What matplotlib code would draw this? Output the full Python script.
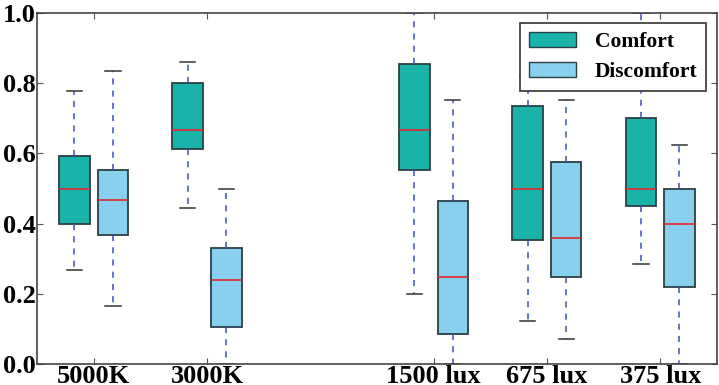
import matplotlib
matplotlib.use('Agg')
import matplotlib.pyplot as plt
from matplotlib.patches import Patch

# group labels and positions (position 3 is left empty)
groups = ['5000K', '3000K', '1500 lux', '675 lux', '375 lux']
group_pos = [1, 2, 4, 5, 6]

# five-number summaries per group: low whisker, Q1, median, Q3, high whisker
comfort_low = [0.267, 0.444, 0.200, 0.123, 0.286]
comfort_q1 = [0.400, 0.612, 0.552, 0.353, 0.449]
comfort_med = [0.500, 0.667, 0.667, 0.500, 0.500]
comfort_q3 = [0.592, 0.800, 0.855, 0.734, 0.700]
comfort_high = [0.778, 0.860, 1.000, 0.820, 1.000]

discomfort_low = [0.165, 0.000, 0.000, 0.070, 0.000]
discomfort_q1 = [0.367, 0.105, 0.085, 0.249, 0.220]
discomfort_med = [0.467, 0.238, 0.249, 0.359, 0.400]
discomfort_q3 = [0.553, 0.332, 0.465, 0.577, 0.500]
discomfort_high = [0.835, 0.500, 0.751, 0.751, 0.624]

c_comfort = '#19b3aa'
c_discomfort = '#89cfee'
edge = '#2b3f45'
serif = ['Liberation Serif', 'DejaVu Serif']

plt.rcParams['font.family'] = serif
plt.rcParams['font.weight'] = 'bold'


def make_stats(low, q1, med, q3, high):
    return [dict(whislo=a, q1=b, med=c, q3=d, whishi=e, fliers=[])
            for a, b, c, d, e in zip(low, q1, med, q3, high)]


fig = plt.figure(figsize=(7.19, 3.85), dpi=100)
ax = fig.add_axes([0.0515, 0.0545, 0.9455, 0.9115])

common = dict(
    widths=0.27, patch_artist=True, showfliers=False,
    whiskerprops=dict(color='#3a4fc0', linestyle=(0, (4, 4)), linewidth=1.1),
    capprops=dict(color='#333333', linewidth=1.1),
    medianprops=dict(color='#e8262f', linewidth=1.2),
)

off = 0.17
ax.bxp(make_stats(comfort_low, comfort_q1, comfort_med, comfort_q3, comfort_high),
       positions=[p - off for p in group_pos],
       boxprops=dict(facecolor=c_comfort, edgecolor=edge, linewidth=1.3), **common)
ax.bxp(make_stats(discomfort_low, discomfort_q1, discomfort_med, discomfort_q3, discomfort_high),
       positions=[p + off for p in group_pos],
       boxprops=dict(facecolor=c_discomfort, edgecolor=edge, linewidth=1.3), **common)

ax.set_xlim(0.5, 6.5)
ax.set_ylim(0.0, 1.0)
ax.set_xticks(group_pos)
ax.set_xticklabels(groups, fontsize=19, fontweight='bold', family=serif)
ax.set_yticks([0.0, 0.2, 0.4, 0.6, 0.8, 1.0])
ax.set_yticklabels(['0.0', '0.2', '0.4', '0.6', '0.8', '1.0'],
                   fontsize=19, fontweight='bold', family=serif)
ax.tick_params(direction='in', top=True, right=True, length=4, pad=1, color='#555555')
for s in ax.spines.values():
    s.set_color('#444444')
    s.set_linewidth(1.2)

handles = [Patch(facecolor=c_comfort, edgecolor=edge, label='Comfort'),
           Patch(facecolor=c_discomfort, edgecolor=edge, label='Discomfort')]
leg = ax.legend(handles=handles, loc='upper right', bbox_to_anchor=(0.984, 0.972),
                borderaxespad=0,
                prop=dict(family=serif, weight='bold', size=15.5),
                fancybox=False, framealpha=1, edgecolor='#333333',
                handlelength=2.2, handleheight=0.75, handletextpad=0.85,
                borderpad=0.4, labelspacing=0.45)
leg.get_frame().set_linewidth(1.2)
leg.set_zorder(10)

fig.savefig('out.png', dpi=100)
